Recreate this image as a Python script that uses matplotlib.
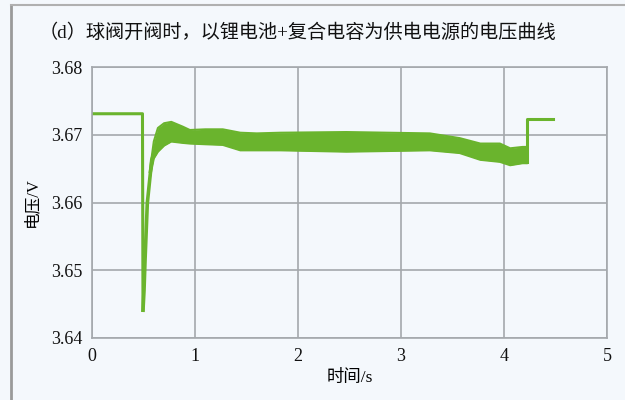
import matplotlib
matplotlib.use('Agg')
import matplotlib.pyplot as plt
from matplotlib.lines import Line2D

# steady voltage before the valve opens, then the drop
pre_t = [0, 0.49, 0.495]
pre_v = [3.6731, 3.6731, 3.6441]

# recovery after the dip (lower edge of the trace)
spike_t = [0.495, 0.505, 0.515, 0.537, 0.58, 0.64]
spike_v = [3.6441, 3.6470, 3.6515, 3.6599, 3.6663, 3.6690]

# noisy section: upper / lower envelope of the ripple
band_t = [0.56, 0.60, 0.64, 0.70, 0.77, 0.88, 0.95, 1.10, 1.27, 1.44, 1.60,
          1.83, 2.47, 3.28, 3.57, 3.77, 3.96, 4.06, 4.18, 4.22]
band_hi = [3.6645, 3.6690, 3.6710, 3.6717, 3.6719, 3.6712, 3.6707, 3.6708,
           3.6708, 3.6703, 3.6702, 3.6703, 3.6704, 3.6702, 3.6695, 3.6687,
           3.6687, 3.6680, 3.6682, 3.6682]
band_lo = [3.6635, 3.6665, 3.6675, 3.6684, 3.6690, 3.6688, 3.6687, 3.6686,
           3.6685, 3.6677, 3.6677, 3.6677, 3.6675, 3.6677, 3.6673, 3.6663,
           3.6660, 3.6655, 3.6658, 3.6658]

# valve closed again
post_t = [4.22, 4.22, 4.48]
post_v = [3.6660, 3.6723, 3.6723]

xticks = [0, 1, 2, 3, 4, 5]
yticks = [3.64, 3.65, 3.66, 3.67, 3.68]

green = '#6ab42d'
bg = '#f4f8fc'
grid_c = '#a4a8ac'
serif = ['Liberation Serif', 'Noto Sans CJK SC']

fig = plt.figure(figsize=(6.25, 4), dpi=100, facecolor=bg)
ax = fig.add_axes([0.1472, 0.155, 0.824, 0.6775], facecolor=bg)

ax.fill_between(band_t, band_lo, band_hi, color=green, lw=0)
ax.plot(band_t, band_hi, color=green, lw=1.5)
ax.plot(band_t, band_lo, color=green, lw=1.5)
ax.plot(pre_t, pre_v, color=green, lw=2.2)
ax.plot(spike_t, spike_v, color=green, lw=2.6)
ax.plot(post_t, post_v, color=green, lw=2.2)

ax.set_xlim(0, 5)
ax.set_ylim(3.64, 3.68)
ax.set_xticks(xticks)
ax.set_yticks(yticks)
ax.set_xticklabels([str(x) for x in xticks], family=serif, fontsize=13)
ax.set_yticklabels(['%.2f' % y for y in yticks], family=serif, fontsize=13)
ax.tick_params(length=0, pad=7, colors='#111111')
ax.grid(True, color=grid_c, lw=1.2)
ax.set_axisbelow(True)
for s in ax.spines.values():
    s.set_color(grid_c)
    s.set_linewidth(1.2)

ax.set_xlabel('时间/s', family=serif, fontsize=12.5, labelpad=4)
ax.set_ylabel('电压/V', family=serif, fontsize=12, labelpad=8)

fig.text(0.062, 0.917, '（d）球阀开阀时，以锂电池+复合电容为供电电源的电压曲线',
         family=serif, fontsize=13.8, va='center', ha='left', color='#111111')

# frame around the panel
fig.add_artist(Line2D([0.018, 0.018], [0, 0.987], transform=fig.transFigure,
                      color='#9a9a9a', lw=2))
fig.add_artist(Line2D([0.018, 1.0], [0.987, 0.987], transform=fig.transFigure,
                      color='#b0b0b0', lw=1.5))

fig.savefig('out.png', dpi=100, facecolor=bg)
